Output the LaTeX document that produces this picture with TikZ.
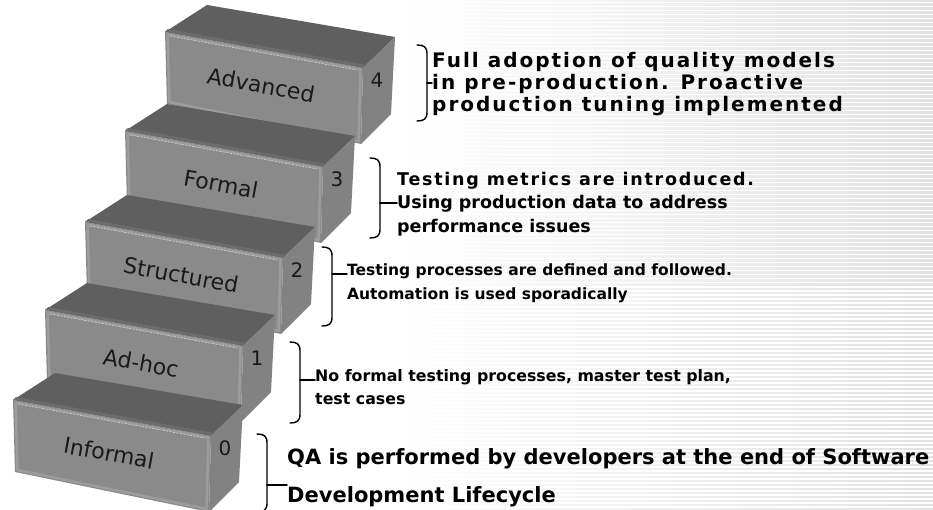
\documentclass[tikz,border=0pt]{standalone}
\usepackage{fontspec}
\setmainfont{DejaVu Sans}
\newfontfamily\descfont{DejaVu Sans}
\newfontfamily\descwidefont{DejaVu Sans}[LetterSpace=10]
\usetikzlibrary{calc}

\definecolor{stepTop}{HTML}{5F5F5F}
\definecolor{stepLip}{HTML}{6C6C6C}
\definecolor{stepFront}{HTML}{8A8A8A}
\definecolor{stepBevel}{HTML}{9C9C9C}
\definecolor{stepSide}{HTML}{828282}
\definecolor{stripeGray}{HTML}{E2E2E2}

\tikzset{
  steptop/.style={fill=stepTop},
  steplip/.style={fill=stepLip},
  stepside/.style={fill=stepSide},
  stepfront/.style={fill=stepFront},
  stepbevel/.style={draw=stepBevel, line width=2.5pt, line join=round},
  stepglint/.style={draw=white!70!stepFront, line width=0.5pt, dash pattern=on 2pt off 1.5pt},
  steplabel/.style={font=\fontsize{22}{26}\selectfont, text=black!90, inner sep=0pt, rotate=-10.3},
  stepnum/.style={font=\fontsize{20}{24}\selectfont, text=black!90, inner sep=0pt},
  brace/.style={line width=1.4pt, line cap=round},
  desc/.style={anchor=base west, inner sep=0pt, font=\descfont\bfseries\fontsize{#1}{#1}\selectfont},
  descwide/.style={anchor=base west, inner sep=0pt, font=\descwidefont\bfseries\fontsize{#1}{#1}\selectfont}
}

% one step of the ladder: name, front top-left x, y, label, level
\newcommand{\stairstep}[5]{%
  \begin{scope}[shift={(#2,#3)}]
    \fill[steptop] (0,0) -- (42,-27) -- (230,5) -- (198,36) -- cycle;
    \fill[steplip] (0,0) -- (198,36) -- (201,33) -- (3,-3) -- cycle;
    \fill[stepside] (198,36) -- (230,5) -- (226,82) -- (196,112) -- cycle;
    \fill[stepfront] (0,0) -- (198,36) -- (196,112) -- (2,72) -- cycle;
    \draw[stepbevel] (2.5,2.5) -- (195.5,37.5) -- (193.5,109) -- (4.5,70) -- cycle;
    \draw[stepglint] (5,4) -- (192,38);
    \node[steplabel] (#1) at (96,53) {#4};
    \node[stepnum] (#1num) at (212,48) {#5};
  \end{scope}}

% right brace: x of the spine, top y, bottom y
\newcommand{\levelbrace}[3]{%
  \draw[brace] (#1-10,#2) .. controls (#1-3,#2) and (#1,#2+2) .. (#1,#2+9)
    -- (#1,#3-9) .. controls (#1,#3-2) and (#1-3,#3) .. (#1-10,#3);}

\begin{document}
\begin{tikzpicture}[x=1pt,y=-1pt]
  \useasboundingbox (0,0) rectangle (933,510);
  \fill[white] (0,0) rectangle (933,510);
  \foreach \i in {0,...,127}
    \shade[left color=white, right color=stripeGray] (400,4*\i) rectangle (933,4*\i+1.6);

  % the steps, top one first
  \stairstep{adv}{165}{32}{Advanced}{4}
  \stairstep{frm}{125}{131}{Formal}{3}
  \stairstep{str}{85}{222}{Structured}{2}
  \stairstep{adh}{45}{310}{Ad-hoc}{1}
  \stairstep{inf}{13}{400}{Informal}{0}

  % level 4
  \node[descwide=20] (t4a) at (432,68) {Full adoption of quality models};
  \node[descwide=20] (t4b) at (432,90) {in pre-production. Proactive};
  \node[descwide=20] (t4c) at (432,112) {production tuning implemented};
  \levelbrace{427}{45}{121}
  \coordinate (k4) at (427,83);
  \draw[brace] (k4) -- (k4 -| t4b.west);

  % level 3
  \node[descwide=17.5] (t3a) at (397,186) {Testing metrics are introduced.};
  \node[desc=17.5] (t3b) at (397,209) {Using production data to address};
  \node[desc=17.5] (t3c) at (397,233) {performance issues};
  \levelbrace{380}{158}{238}
  \coordinate (k3) at (380,203);
  \draw[brace] (k3) -- (k3 -| t3b.west);

  % level 2
  \node[desc=15.5] (t2a) at (347,276) {Testing processes are defined and followed.};
  \node[desc=15.5] (t2b) at (347,299) {Automation is used sporadically};
  \levelbrace{332}{247}{326}
  \coordinate (k2) at (332,274);
  \draw[brace] (k2) -- (k2 -| t2a.west);

  % level 1
  \node[desc=15.8] (t1a) at (315,381) {No formal testing processes, master test plan,};
  \node[desc=15.8] (t1b) at (315,404) {test cases};
  \levelbrace{300}{342}{423}
  \coordinate (k1) at (300,380);
  \draw[brace] (k1) -- (k1 -| t1a.west);

  % level 0
  \node[desc=21] (t0a) at (287,464) {QA is performed by developers at the end of Software};
  \node[desc=21] (t0b) at (287,502) {Development Lifecycle};
  \levelbrace{267}{434}{512}
  \coordinate (k0) at (267,485);
  \draw[brace] (k0) -- (k0 -| t0a.west);
\end{tikzpicture}
\end{document}
